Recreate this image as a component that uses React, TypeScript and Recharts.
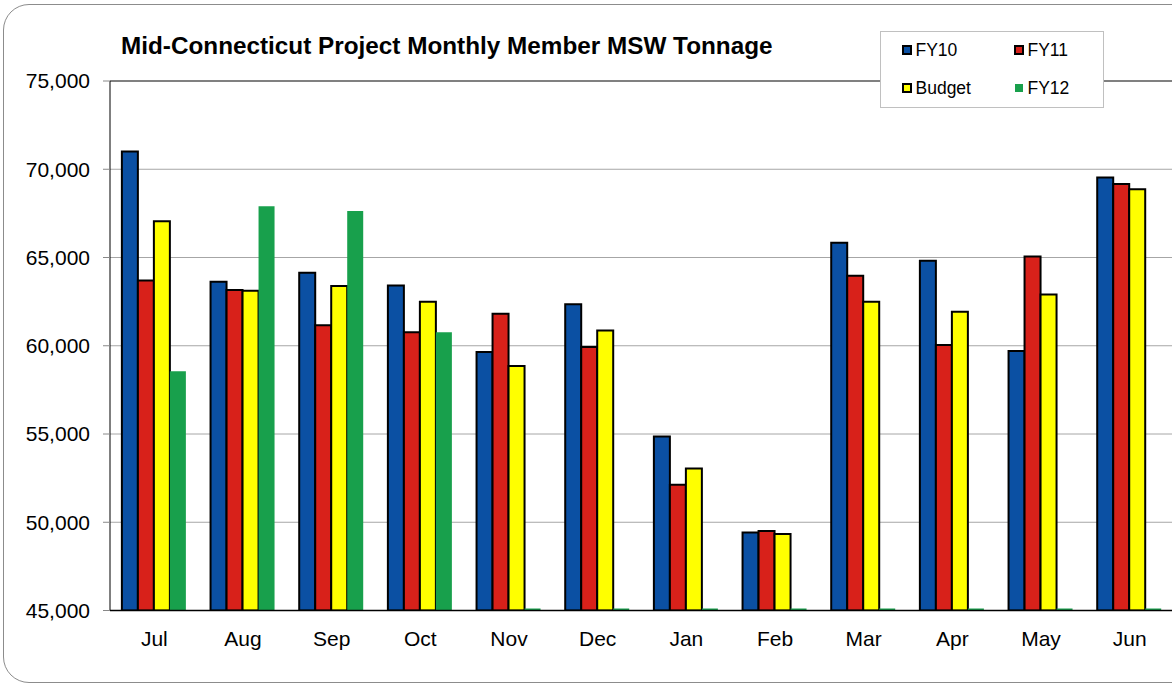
import React from 'react';
import { BarChart, Bar, XAxis, YAxis, CartesianGrid, Legend, ReferenceLine } from 'recharts';

const months = ['Jul', 'Aug', 'Sep', 'Oct', 'Nov', 'Dec', 'Jan', 'Feb', 'Mar', 'Apr', 'May', 'Jun'];
const fy10 = [71000, 63630, 64140, 63420, 59650, 62350, 54860, 49420, 65830, 64820, 59700, 69530];
const fy11 = [63690, 63160, 61160, 60760, 61820, 59930, 52130, 49500, 63960, 60045, 65050, 69170];
const budget = [67050, 63120, 63390, 62500, 58855, 60870, 53050, 49330, 62500, 61920, 62910, 68870];
const fy12 = [58550, 67900, 67640, 60760, 45000, 45000, 45000, 45000, 45000, 45000, 45000, 45000];
const yTicks = [45000, 50000, 55000, 60000, 65000, 70000, 75000];
const edgeTicks = [0, 1, 2, 3, 4, 5, 6, 7, 8, 9, 10, 11, 12];
const title = 'Mid-Connecticut Project Monthly Member MSW Tonnage';

const data = months.map((m, i) => ({ month: m, FY10: fy10[i], FY11: fy11[i], Budget: budget[i], FY12: fy12[i] }));

const FONT = '"Liberation Sans", Arial, sans-serif';

const legendItems = [
  { name: 'FY10', color: '#0B50A3', border: true, left: 20.5, top: 0 },
  { name: 'FY11', color: '#D8211A', border: true, left: 132.5, top: 0 },
  { name: 'Budget', color: '#FFFF00', border: true, left: 20.5, top: 38.5 },
  { name: 'FY12', color: '#18A04C', border: false, left: 133.5, top: 38.5 },
];

const renderLegend = () => (
  <div style={{ position: 'relative', width: 224, height: 77, background: '#fff', border: '1px solid #c0c0c0', boxSizing: 'border-box', fontFamily: FONT }}>
    {legendItems.map((it) => (
      <div key={it.name} style={{ position: 'absolute', left: it.left, top: 8 + it.top, height: 20, display: 'flex', alignItems: 'center' }}>
        <span style={{ display: 'inline-block', width: it.border ? 6 : 8, height: it.border ? 6 : 8, background: it.color, border: it.border ? '2px solid #000' : 'none', marginRight: it.border ? 4 : 5 }} />
        <span style={{ fontSize: 17.5, color: '#000', lineHeight: '20px' }}>{it.name}</span>
      </div>
    ))}
  </div>
);

const fmt = (v: number) => v.toLocaleString('en-US');

export default function App() {
  return (
    <div style={{ position: 'absolute', left: 0, top: 0, width: 1172, height: 685, overflow: 'hidden', background: '#fff' }}>
      <div style={{ position: 'absolute', left: 3, top: 4, width: 1220, height: 679, border: '1px solid #8c8c8c', borderRadius: 26, boxSizing: 'border-box' }} />
      <div style={{ position: 'absolute', left: 121, top: 33.5, fontFamily: FONT, fontWeight: 'bold', fontSize: 24.3, lineHeight: '24px', whiteSpace: 'nowrap', color: '#000' }}>{title}</div>
      <div style={{ position: 'absolute', left: 0, top: 0 }}>
        <BarChart width={1174} height={685} data={data} margin={{ top: 81, right: 0, bottom: 33.5, left: 0 }} barCategoryGap="13.4%" barGap={0}>
          <CartesianGrid vertical={false} stroke="#a6a6a6" xAxisId="b" />
          <XAxis xAxisId="b" dataKey="month" tickLine={false} axisLine={false} tickSize={6} tickMargin={13.5} height={40} tick={{ fill: '#000', fontSize: 21, fontFamily: FONT }} interval={0} />
          <XAxis xAxisId="a" type="number" domain={[0, 12]} ticks={edgeTicks} allowDataOverflow tick={false} tickLine={{ stroke: '#888' }} tickSize={6} axisLine={{ stroke: '#000', strokeWidth: 1.5 }} height={1} />
          <YAxis domain={[45000, 75000]} ticks={yTicks} allowDataOverflow width={110} tickSize={7} tickMargin={13} tickFormatter={fmt} tick={{ fill: '#000', fontSize: 21, fontFamily: FONT }} tickLine={{ stroke: '#888' }} axisLine={{ stroke: '#000' }} />
          <ReferenceLine y={75000} xAxisId="b" stroke="#808080" strokeWidth={2} />
          <Legend layout="horizontal" verticalAlign="middle" align="center" content={renderLegend} wrapperStyle={{ position: 'absolute', left: 880, top: 30.5, width: 224, height: 77 }} />
          <Bar xAxisId="b" dataKey="FY10" fill="#0B50A3" stroke="#000" strokeWidth={2} isAnimationActive={false} />
          <Bar xAxisId="b" dataKey="FY11" fill="#D8211A" stroke="#000" strokeWidth={2} isAnimationActive={false} />
          <Bar xAxisId="b" dataKey="Budget" fill="#FFFF00" stroke="#000" strokeWidth={2} isAnimationActive={false} />
          <Bar xAxisId="b" dataKey="FY12" fill="#18A04C" minPointSize={2} isAnimationActive={false} />
        </BarChart>
      </div>
    </div>
  );
}
